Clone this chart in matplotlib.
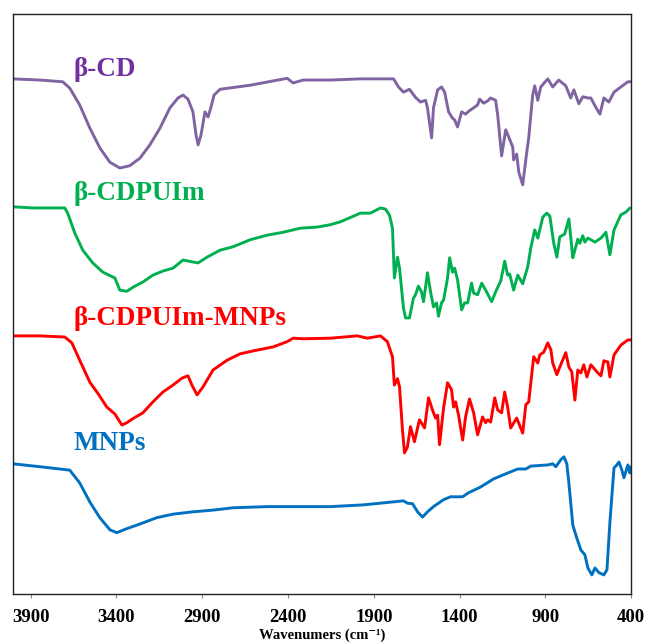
import matplotlib
matplotlib.use("Agg")
import matplotlib.pyplot as plt

# ---- data (wavenumber cm^-1, offset transmittance a.u.) ----
cd_wn = [4005, 3847, 3713, 3672, 3614, 3555, 3497, 3438, 3380, 3322, 3263, 3205, 3146, 3088, 3041, 3012,
         2983, 2954, 2936, 2924, 2907, 2884, 2866, 2849, 2831, 2796, 2621, 2405, 2370, 2311, 2153, 1978,
         1785, 1756, 1727, 1692, 1657, 1628, 1598, 1587, 1563, 1552, 1528, 1505, 1487, 1464, 1441, 1429,
         1412, 1388, 1365, 1347, 1318, 1295, 1283, 1260, 1236, 1219, 1190, 1178, 1155, 1131, 1114, 1090,
         1085, 1067, 1055, 1032, 1009, 997, 974, 962, 944, 927, 886, 857, 822, 781, 752, 734, 705, 682,
         652, 635, 606, 582, 559, 530, 500, 460, 419, 400]
cd_t = [88.8, 88.6, 88.3, 87.2, 84.3, 80.3, 76.9, 74.4, 73.4, 73.8, 75.1, 77.4, 80.3, 83.8, 85.5, 86.0,
        85.3, 83.1, 79.1, 77.4, 79.1, 83.1, 82.2, 83.9, 86.0, 87.0, 87.7, 88.9, 88.1, 88.6, 88.6, 88.8,
        88.8, 87.4, 86.5, 87.0, 85.6, 84.8, 85.1, 83.8, 78.6, 83.8, 86.9, 87.4, 86.5, 83.1, 82.0, 81.7,
        80.5, 83.1, 82.7, 83.2, 83.8, 84.3, 85.3, 84.6, 85.0, 85.5, 85.1, 82.6, 75.5, 80.0, 78.8, 77.0,
        74.8, 75.8, 72.7, 70.5, 76.0, 78.6, 86.0, 87.6, 85.1, 87.4, 88.8, 87.4, 88.6, 87.6, 85.5, 86.9, 84.5, 85.7,
        85.5, 85.5, 83.9, 82.7, 85.5, 84.8, 86.5, 87.4, 88.3, 88.3]

pu_wn = [4005, 3888, 3701, 3684, 3643, 3596, 3538, 3479, 3409, 3380, 3339, 3304, 3246, 3187, 3129, 3070,
         3012, 2960, 2924, 2872, 2796, 2720, 2621, 2521, 2428, 2329, 2229, 2153, 2095, 1978, 1920, 1861,
         1832, 1809, 1791, 1780, 1762, 1750, 1727, 1715, 1692, 1669, 1657, 1640, 1622, 1610, 1587, 1569,
         1552, 1534, 1523, 1505, 1493, 1470, 1458, 1441, 1429, 1412, 1388, 1371, 1353, 1330, 1318, 1295,
         1271, 1248, 1213, 1190, 1160, 1137, 1120, 1108, 1085, 1061, 1032, 1003, 985, 962, 944, 915, 892,
         874, 851, 833, 816, 787, 763, 740, 728, 711, 699, 682, 670, 652, 611, 576, 547, 524, 500, 460,
         430, 407]
pu_t = [66.7, 66.5, 66.5, 65.6, 62.2, 59.2, 57.0, 55.4, 54.4, 52.3, 52.1, 52.8, 53.7, 54.9, 55.6, 56.1,
        57.5, 57.2, 57.0, 58.0, 59.2, 59.8, 61.0, 61.8, 62.3, 63.0, 63.2, 63.6, 64.1, 65.6, 65.6, 66.5,
        66.3, 65.3, 63.0, 54.4, 58.0, 56.1, 49.2, 47.5, 47.5, 50.9, 51.5, 53.0, 52.0, 50.3, 55.3, 52.0,
        49.4, 50.1, 47.8, 50.1, 50.6, 54.4, 57.9, 55.4, 56.1, 54.1, 48.9, 50.1, 50.1, 53.5, 51.8, 51.5,
        53.5, 52.3, 50.3, 52.0, 53.9, 57.3, 54.9, 55.1, 52.3, 54.9, 53.4, 56.3, 59.6, 62.7, 61.3, 64.9, 65.6,
        65.1, 60.4, 58.0, 61.5, 62.0, 64.6, 57.9, 59.2, 61.1, 60.4, 61.7, 60.6, 61.3, 60.6, 61.3, 62.3, 58.4, 62.7, 65.3,
        65.8, 66.5]

pm_wn = [4005, 3847, 3701, 3660, 3614, 3555, 3509, 3456, 3409, 3368, 3339, 3304, 3246, 3187, 3129, 3070,
         3018, 2983, 2960, 2930, 2895, 2837, 2755, 2679, 2603, 2486, 2405, 2370, 2311, 2153, 1996, 1937,
         1861, 1821, 1791, 1780, 1762, 1750, 1733, 1721, 1704, 1686, 1663, 1634, 1604, 1581, 1558, 1540,
         1528, 1517, 1493, 1470, 1447, 1435, 1423, 1406, 1382, 1365, 1342, 1318, 1295, 1266, 1248, 1236,
         1219, 1195, 1178, 1155, 1137, 1120, 1102, 1067, 1032, 1014, 997, 968, 944, 933, 909, 886, 868,
         857, 833, 816, 781, 763, 746, 728, 711, 693, 676, 658, 635, 594, 576, 559, 536, 524, 500, 460,
         419, 400]
pm_t = [44.4, 44.4, 44.2, 43.2, 40.2, 36.4, 34.5, 32.1, 30.9, 29.0, 29.4, 30.1, 31.1, 33.0, 34.7, 35.9,
        37.1, 37.5, 35.9, 34.2, 35.6, 38.5, 40.2, 41.3, 41.8, 42.5, 43.4, 44.0, 43.9, 44.0, 44.4, 44.0,
        44.4, 43.4, 40.8, 35.9, 37.0, 35.6, 28.2, 24.2, 25.2, 28.7, 26.1, 29.9, 28.5, 33.7, 31.6, 30.2,
        30.7, 25.6, 32.0, 36.3, 35.1, 32.1, 33.0, 30.7, 26.4, 30.4, 33.5, 31.1, 27.3, 30.4, 29.4, 29.9,
        29.5, 33.7, 31.6, 31.1, 34.7, 32.1, 28.5, 30.2, 27.6, 32.5, 33.0, 40.8, 39.7, 41.1, 41.6, 43.2, 42.0,
        39.7, 37.7, 39.0, 41.5, 39.0, 38.2, 33.3, 38.5, 38.0, 39.4, 37.3, 39.4, 38.0, 37.5, 40.1, 39.9, 37.3, 41.1, 42.8,
        43.7, 43.7]

mn_wn = [4005, 3847, 3672, 3614, 3555, 3497, 3438, 3398, 3339, 3263, 3164, 3070, 2954, 2837, 2720, 2521,
         2329, 2153, 1961, 1861, 1727, 1704, 1674, 1645, 1616, 1587, 1552, 1493, 1453, 1383, 1347, 1277,
         1201, 1120, 1061, 1014, 985, 886, 857, 839, 810, 792, 775, 763, 740, 717, 693, 670, 652, 629,
         611, 588, 559, 541, 524, 500, 489, 471, 454, 442, 419, 407, 400]
mn_t = [22.3, 21.8, 21.2, 19.0, 15.7, 13.0, 10.9, 10.4, 11.1, 11.9, 13.0, 13.6, 14.0, 14.3, 14.7, 14.9,
        14.9, 14.9, 15.2, 15.5, 15.9, 15.5, 15.4, 14.0, 13.1, 14.0, 14.9, 16.1, 16.6, 16.6, 17.3, 18.3,
        19.7, 20.7, 21.4, 21.4, 21.9, 22.1, 22.3, 21.8, 23.0, 23.5, 22.3, 19.0, 11.7, 9.5, 7.4, 6.6, 4.3, 3.1,
        4.3, 3.5, 3.1, 4.0, 12.1, 21.6, 21.9, 22.6, 21.2, 19.9, 22.1, 20.7, 21.8]

series_names = ["β-CD", "β-CDPUIm", "β-CDPUIm-MNPs", "MNPs"]
label_y = [89.3, 67.9, 46.3, 24.7]
xticks = [3900, 3400, 2900, 2400, 1900, 1400, 900, 400]

line_colors = ["#8064A2", "#00B050", "#FF0000", "#0070C0"]
text_colors = ["#7030A0", "#00B050", "#FF0000", "#0070C0"]

fig = plt.figure(figsize=(6.48, 6.44), dpi=100)
ax = fig.add_axes([0.020, 0.0776, 0.954, 0.9006])

serif = ["Liberation Serif", "DejaVu Serif"]
for (wn, t), lc, tc, name, ly in zip(
        [(cd_wn, cd_t), (pu_wn, pu_t), (pm_wn, pm_t), (mn_wn, mn_t)],
        line_colors, text_colors, series_names, label_y):
    ax.plot(wn, t, color=lc, lw=2.1, solid_joinstyle="round", solid_capstyle="round")
    ax.text(3650, ly, name, color=tc, fontsize=19.5, fontweight="bold",
            family=serif, ha="left", va="baseline")

ax.set_xlim(4003, 400)
ax.set_ylim(-0.2, 100)
ax.set_yticks([])
ax.set_xticks(xticks)
ax.set_xticklabels([str(v) for v in xticks], fontsize=13.5, fontweight="bold", family=serif)
ax.tick_params(axis="x", direction="out", length=3, width=0.8, color="#888888", pad=8)
for s in ax.spines.values():
    s.set_linewidth(1.0)
    s.set_color("#222222")
ax.set_xlabel("Wavenumers (cm\u207b\u00b9)", fontsize=10.5, fontweight="bold", family=serif)
ax.xaxis.set_label_coords(0.5, -0.060)

fig.savefig("out.png", dpi=100)
